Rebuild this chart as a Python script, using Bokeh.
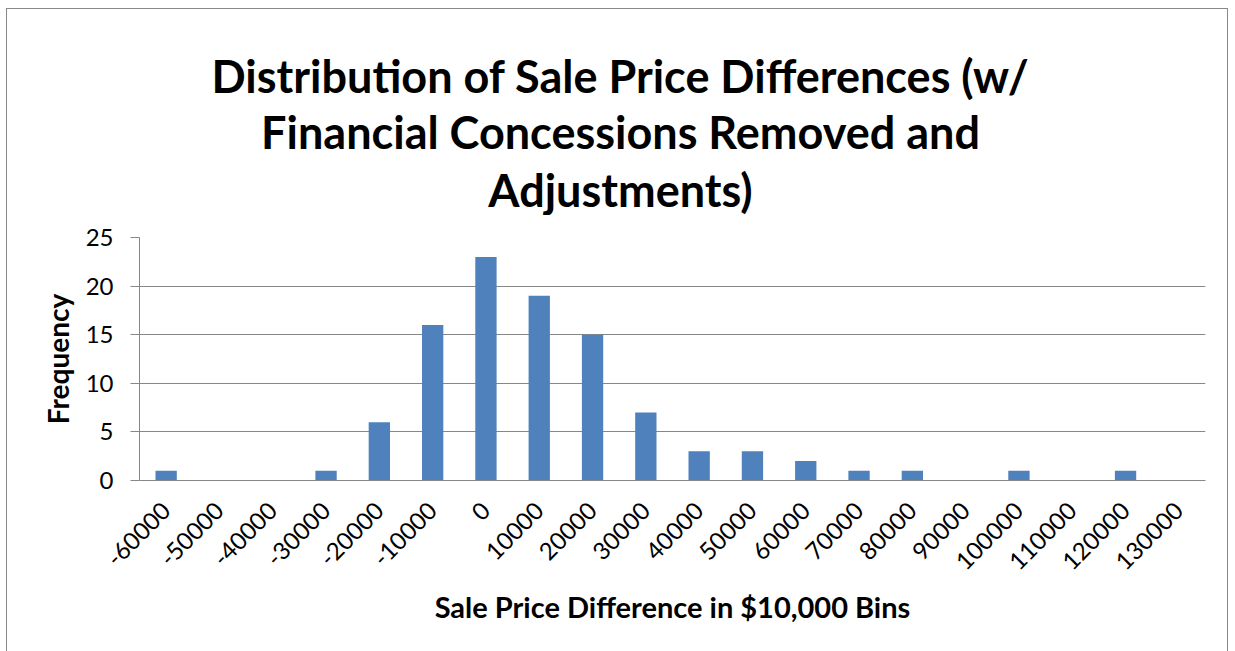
from bokeh.plotting import figure
from bokeh.models import FactorRange, FixedTicker, Range1d
from bokeh.layouts import column
from bokeh.core.properties import value
from bokeh.embed import file_html
from bokeh.resources import INLINE
import math

categories = ["-60000", "-50000", "-40000", "-30000", "-20000", "-10000", "0",
              "10000", "20000", "30000", "40000", "50000", "60000", "70000",
              "80000", "90000", "100000", "110000", "120000", "130000"]
frequency = [1, 0, 0, 1, 6, 16, 23, 19, 15, 7, 3, 3, 2, 1, 1, 0, 1, 0, 1, 0]
y_ticks = [0, 5, 10, 15, 20, 25]
title_lines = ["Distribution of Sale Price Differences (w/",
               "Financial Concessions Removed and",
               "Adjustments)"]

FONT = "Lato"
GRID = "#878787"
W = 1220
TH = 206

# ---- title strip: its frame is aligned with the chart's frame, ranges in page pixels ----
tf = figure(width=W, height=TH, x_range=Range1d(139, 1205), y_range=Range1d(9 + TH, 9),
            output_backend="svg", toolbar_location=None,
            min_border=0, min_border_left=0, min_border_right=0,
            min_border_top=0, min_border_bottom=0)
tf.axis.visible = False
tf.grid.visible = False
tf.outline_line_color = None
tf.text(x=[620] * 3, y=[75, 131, 189], text=title_lines,
        text_align="center", text_baseline="alphabetic",
        text_font=value(FONT), text_font_size="45px", text_font_style="bold",
        text_color="black")

# ---- chart ----
p = figure(width=W, height=642 - TH, x_range=FactorRange(factors=categories),
           y_range=(0, 25), output_backend="svg", toolbar_location=None,
           min_border_left=132, min_border_right=22, min_border_top=237 - 9 - TH,
           min_border_bottom=171)

p.vbar(x=categories, top=frequency, width=0.4, color="#4F81BD", line_color=None)

p.outline_line_color = None
p.xgrid.grid_line_color = None
p.ygrid.grid_line_color = GRID
p.ygrid.grid_line_width = 1
p.yaxis.ticker = FixedTicker(ticks=y_ticks)

p.yaxis.axis_label = "Frequency"
p.yaxis.axis_label_text_font = FONT
p.yaxis.axis_label_text_font_size = "28px"
p.yaxis.axis_label_text_font_style = "bold"
p.yaxis.axis_label_text_color = "black"
p.yaxis.axis_line_color = GRID
p.yaxis.major_tick_line_color = GRID
p.yaxis.major_tick_out = 9
p.yaxis.major_tick_in = 0
p.yaxis.minor_tick_line_color = None
p.yaxis.major_label_text_font = FONT
p.yaxis.major_label_text_font_size = "24px"
p.yaxis.major_label_text_color = "black"
p.yaxis.major_label_standoff = 17
p.yaxis.axis_label_standoff = 8

p.xaxis.axis_label = "Sale Price Difference in $10,000 Bins"
p.xaxis.axis_label_text_font = FONT
p.xaxis.axis_label_text_font_size = "29px"
p.xaxis.axis_label_text_font_style = "bold"
p.xaxis.axis_label_text_color = "black"
p.xaxis.axis_line_color = GRID
p.xaxis.major_tick_line_color = None
p.xaxis.minor_tick_line_color = None
p.xaxis.major_label_orientation = math.pi / 4
p.xaxis.major_label_text_font = FONT
p.xaxis.major_label_text_font_size = "24px"
p.xaxis.major_label_text_color = "black"
p.xaxis.major_label_standoff = 20
p.xaxis.axis_label_standoff = 8

layout = column(tf, p, spacing=0,
                styles={"border-left": "1px solid #888888", "border-top": "1px solid #888888",
                        "border-right": "1px solid #888888", "margin-left": "6px",
                        "margin-top": "8px"})

open("out.html", "w").write(file_html(layout, INLINE))
